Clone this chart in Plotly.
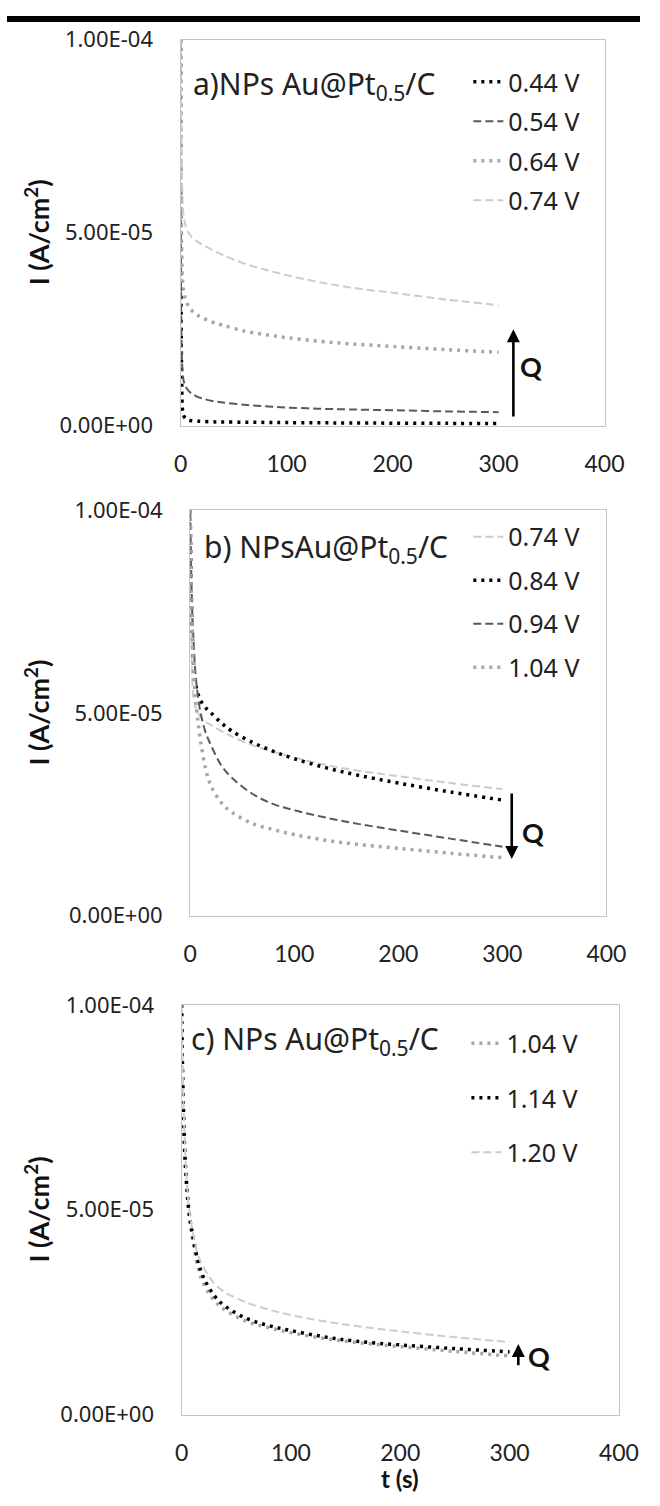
import plotly.graph_objects as go

# ---------------- data ----------------
t_s = [0, 1, 2, 3, 5, 7, 10, 15, 20, 30, 40, 60, 80, 100, 130, 160, 200, 250, 300]

# panel a
i_044 = [1.0e-4, 1.2e-5, 3.5e-6, 2.5e-6, 1.8e-6, 1.5e-6, 1.3e-6, 1.2e-6, 1.1e-6, 1.0e-6,
         9.5e-7, 9.0e-7, 8.5e-7, 8.0e-7, 7.5e-7, 7.0e-7, 6.5e-7, 6.0e-7, 5.5e-7]
i_054 = [1.0e-4, 2.0e-5, 1.35e-5, 1.15e-5, 1.0e-5, 9.2e-6, 8.4e-6, 7.6e-6, 7.1e-6, 6.4e-6,
         6.0e-6, 5.4e-6, 5.0e-6, 4.7e-6, 4.4e-6, 4.2e-6, 4.0e-6, 3.7e-6, 3.5e-6]
i_064 = [1.0e-4, 4.5e-5, 3.7e-5, 3.45e-5, 3.25e-5, 3.12e-5, 3.0e-5, 2.88e-5, 2.8e-5, 2.68e-5,
         2.6e-5, 2.45e-5, 2.36e-5, 2.28e-5, 2.19e-5, 2.12e-5, 2.05e-5, 1.97e-5, 1.9e-5]
i_074 = [1.0e-4, 7.0e-5, 5.8e-5, 5.4e-5, 5.15e-5, 5.02e-5, 4.9e-5, 4.78e-5, 4.7e-5, 4.55e-5,
         4.42e-5, 4.2e-5, 4.04e-5, 3.9e-5, 3.72e-5, 3.58e-5, 3.44e-5, 3.27e-5, 3.12e-5]
# panel b
i_084 = [1.0e-4, 8.0e-5, 7.0e-5, 6.3e-5, 5.75e-5, 5.5e-5, 5.3e-5, 5.12e-5, 5.0e-5, 4.75e-5,
         4.55e-5, 4.27e-5, 4.05e-5, 3.87e-5, 3.65e-5, 3.47e-5, 3.27e-5, 3.05e-5, 2.85e-5]
i_094 = [1.0e-4, 8.5e-5, 7.5e-5, 6.9e-5, 6.0e-5, 5.5e-5, 5.0e-5, 4.5e-5, 4.2e-5, 3.7e-5,
         3.4e-5, 3.0e-5, 2.75e-5, 2.6e-5, 2.42e-5, 2.27e-5, 2.1e-5, 1.9e-5, 1.7e-5]
i_104 = [1.0e-4, 8.0e-5, 7.0e-5, 6.2e-5, 5.4e-5, 4.9e-5, 4.3e-5, 3.6e-5, 3.2e-5, 2.78e-5,
         2.55e-5, 2.27e-5, 2.12e-5, 2.0e-5, 1.86e-5, 1.76e-5, 1.66e-5, 1.54e-5, 1.43e-5]
# panel c
i_114 = [1.0e-4, 8.3e-5, 7.2e-5, 6.4e-5, 5.5e-5, 4.9e-5, 4.4e-5, 3.75e-5, 3.35e-5, 2.9e-5,
         2.64e-5, 2.34e-5, 2.17e-5, 2.05e-5, 1.9e-5, 1.79e-5, 1.7e-5, 1.61e-5, 1.53e-5]
i_120 = [1.0e-4, 8.5e-5, 7.4e-5, 6.6e-5, 5.6e-5, 5.0e-5, 4.5e-5, 3.9e-5, 3.6e-5, 3.2e-5,
         2.98e-5, 2.73e-5, 2.56e-5, 2.43e-5, 2.28e-5, 2.16e-5, 2.03e-5, 1.89e-5, 1.77e-5]

x_ticks = [0, 100, 200, 300, 400]
y_ticks = [0, 5e-5, 1e-4]
y_tick_text = ["0.00E+00", "5.00E-05", "1.00E-04"]

panel_titles = ["a)NPs Au@Pt<sub>0.5</sub>/C", "b) NPsAu@Pt<sub>0.5</sub>/C", "c) NPs Au@Pt<sub>0.5</sub>/C"]

# Q arrows: (t, tail, head) and Q label position (t, I)
q_arrows = [(314, 2.0e-6, 2.5e-5), (309, 3.05e-5, 1.4e-5), (308, 1.17e-5, 1.72e-5)]
q_labels = [(331, 1.52e-5), (329, 2.05e-5), (327, 1.41e-5)]

# ---------------- styles ----------------
BLACK_DOT = dict(color="#000000", width=3.5, dash="3px,5px")
DARK_DASH = dict(color="#595959", width=2, dash="8px,4px")
GRAY_DOT = dict(color="#a6a6a6", width=3.5, dash="3px,5px")
LIGHT_DASH = dict(color="#cccccc", width=2, dash="8px,4px")

W, H = 660, 1506
def px_x(p):
    return p / W
def px_y(p):
    return 1 - p / H

panels = [
    dict(x=(181, 623), y=(24, 418)),
    dict(x=(191, 625), y=(504, 918)),
    dict(x=(182, 638), y=(1009, 1427)),
]

series = [
    [("0.44 V", i_044, BLACK_DOT), ("0.54 V", i_054, DARK_DASH),
     ("0.64 V", i_064, GRAY_DOT), ("0.74 V", i_074, LIGHT_DASH)],
    [("0.74 V", i_074, LIGHT_DASH), ("0.84 V", i_084, BLACK_DOT),
     ("0.94 V", i_094, DARK_DASH), ("1.04 V", i_104, GRAY_DOT)],
    [("1.04 V", i_104, GRAY_DOT), ("1.14 V", i_114, BLACK_DOT),
     ("1.20 V", i_120, LIGHT_DASH)],
]

legend_pos = [(481, 44, 4), (481, 508, 8), (479, 1025, 19)]

fig = go.Figure()
layout = dict(
    width=W, height=H, margin=dict(l=0, r=0, t=0, b=0),
    paper_bgcolor="white", plot_bgcolor="white", showlegend=True,
)
annotations = []
shapes = [dict(type="rect", xref="paper", yref="paper", x0=0, x1=1,
               y0=px_y(6), y1=1, fillcolor="black", line=dict(width=0))]

for k, (pan, ser) in enumerate(zip(panels, series)):
    sfx = "" if k == 0 else str(k + 1)
    xa, ya = "x" + sfx, "y" + sfx
    leg = "legend" + sfx
    for j, (name, vals, style) in enumerate(ser):
        fig.add_trace(go.Scatter(
            x=t_s, y=vals, mode="lines", name=name, line=dict(**style, shape="spline"),
            xaxis=xa, yaxis=ya, legend=leg, legendgroup=f"{k}_{j}",
        ))
    layout["xaxis" + sfx] = dict(
        domain=[px_x(pan["x"][0]), px_x(pan["x"][1])], anchor=ya, range=[0, 400],
        tickvals=x_ticks, showline=True, linecolor="#c4c4c4", linewidth=1.3, mirror=True,
        showgrid=False, zeroline=False, ticks="", ticklabelstandoff=18,
        tickfont=dict(family="Lato", size=23, color="#222222"),
    )
    layout["yaxis" + sfx] = dict(
        domain=[px_y(pan["y"][1]), px_y(pan["y"][0])], anchor=xa, range=[0, 1e-4],
        tickvals=y_ticks, ticktext=y_tick_text, showline=True, linecolor="#c4c4c4",
        linewidth=1.3, mirror=True, showgrid=False, zeroline=False, ticks="",
        ticklabelstandoff=22, tickfont=dict(family="Noto Sans", size=22, color="#222222"),
    )
    lx, ly, gap = legend_pos[k]
    layout[leg] = dict(
        x=px_x(lx), y=px_y(ly), xanchor="left", yanchor="top", bgcolor="rgba(0,0,0,0)",
        font=dict(family="Noto Sans", size=25, color="#222222"), traceorder="grouped",
        tracegroupgap=gap, itemclick=False,
    )
    # panel title
    title_xy = [(192, 70), (203, 543), (190, 1045)][k]
    annotations.append(dict(
        text=panel_titles[k], xref="paper", yref="paper", x=px_x(title_xy[0]),
        y=px_y(title_xy[1]), xanchor="left", yanchor="middle", showarrow=False,
        font=dict(family="Noto Sans", size=30, color="#222222"),
    ))
    # y axis title
    annotations.append(dict(
        text="I (A/cm<sup>2</sup>)", xref="paper", yref="paper", x=px_x(31),
        y=px_y((pan["y"][0] + pan["y"][1]) / 2), xanchor="center", yanchor="middle",
        textangle=-90, showarrow=False,
        font=dict(family="Lato", size=27, color="#111111", weight="bold"),
    ))
    # Q arrow
    qt, tail, head = q_arrows[k]
    annotations.append(dict(
        x=qt, y=head, ax=qt, ay=tail, xref=xa, yref=ya, axref=xa, ayref=ya,
        text="", showarrow=True, arrowhead=2, arrowsize=1, arrowwidth=2.6,
        arrowcolor="#000000",
    ))
    ql = q_labels[k]
    annotations.append(dict(
        x=ql[0], y=ql[1], xref=xa, yref=ya, text="<b>Q</b>", showarrow=False,
        font=dict(family="Lato", size=27, color="#111111"),
    ))

annotations.append(dict(
    text="<b>t (s)</b>", xref="paper", yref="paper", x=px_x(410), y=px_y(1492),
    xanchor="center", yanchor="middle", showarrow=False,
    font=dict(family="Lato", size=24, color="#111111"),
))

layout["annotations"] = annotations
layout["shapes"] = shapes
fig.update_layout(**layout)
fig.write_html("out.html")
